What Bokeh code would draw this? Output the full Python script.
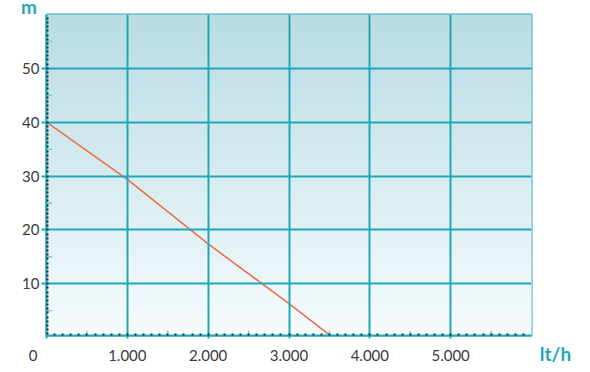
import numpy as np
from bokeh.plotting import figure
from bokeh.models import Range1d, FixedTicker, Div
from bokeh.layouts import column, row
from bokeh.core.properties import value
from bokeh.embed import file_html
from bokeh.resources import INLINE

# data
flow = [0, 1000, 2000, 3000, 3500]          # lt/h
head = [40, 29.4, 17.4, 6.3, 0.5]           # m
x_ticks = [0, 1000, 2000, 3000, 4000, 5000]
x_tick_labels = ["0\u00a0\u00a0\u00a0\u00a0\u00a0\u00a0\u00a0", "1.000", "2.000", "3.000", "4.000", "5.000"]
y_ticks = [10, 20, 30, 40, 50]
x_mid_ticks = [500, 1500, 2500, 3500, 4500, 5500]
y_mid_ticks = [5, 15, 25, 35, 45, 55]
y_unit = "m"
x_unit = "lt/h"

TEAL = "#1fa8b8"
FONT = "Lato"

x0, x1 = 0, 6000
y0, y1 = 0.4, 60

TOP = 13

p = figure(width=533, height=372 - TOP, output_backend="svg", toolbar_location=None,
           x_range=Range1d(x0, x1), y_range=Range1d(y0, y1),
           min_border_left=46, min_border_right=2, min_border_top=1, min_border_bottom=37)
p.background_fill_color = None
p.border_fill_color = None
p.outline_line_color = TEAL
p.outline_line_width = 2

# gradient background (style only)
n = 80
edges = np.linspace(y0, y1, n + 1)
top_c = np.array([184, 220, 227])
bot_c = np.array([246, 251, 253])
cols = []
for i in range(n):
    t = (i + 0.5) / n
    c = bot_c + (top_c - bot_c) * t
    cols.append("#%02x%02x%02x" % tuple(int(round(v)) for v in c))
p.quad(left=x0, right=x1, bottom=edges[:-1], top=edges[1:], fill_color=cols,
       line_color=cols, line_width=1.2)

# grid
p.xgrid.ticker = FixedTicker(ticks=x_ticks[1:])
p.ygrid.ticker = FixedTicker(ticks=y_ticks)
for g in (p.xgrid, p.ygrid):
    g.grid_line_color = TEAL
    g.grid_line_width = 2
    g.level = "glyph"

# mid ticks (lighter, slightly longer)
p.segment(x0=x_mid_ticks, x1=x_mid_ticks, y0=[y0] * len(x_mid_ticks),
          y1=[y0 + 0.9] * len(x_mid_ticks), line_color="#7fcbd6", line_width=1.5)
p.segment(x0=[x0] * len(y_mid_ticks), x1=[x0 + 70] * len(y_mid_ticks),
          y0=y_mid_ticks, y1=y_mid_ticks, line_color="#7fcbd6", line_width=1.5)

# curve
p.line(flow, head, line_color="#e8714a", line_width=1.6)

# axes
xa = p.xaxis[0]
xa.ticker = FixedTicker(ticks=x_ticks, minor_ticks=list(range(100, 6000, 100)))
xa.major_label_overrides = {t: l for t, l in zip(x_ticks, x_tick_labels)}
ya = p.yaxis[0]
ya.ticker = FixedTicker(ticks=y_ticks, minor_ticks=list(np.arange(0.75, 60, 0.77)))
for a in (xa, ya):
    a.axis_line_color = TEAL
    a.axis_line_width = 2
    a.major_tick_line_color = TEAL
    a.major_tick_line_width = 2
    a.major_tick_in = 0
    a.minor_tick_line_color = "#1b2a44"
    a.minor_tick_line_width = 2
    a.minor_tick_in = 2
    a.minor_tick_out = 0
    a.major_label_text_font = FONT
    a.major_label_text_font_size = "15px"
    a.major_label_text_color = "#3a3a3a"
xa.major_tick_out = 3
xa.major_label_standoff = 7
ya.major_tick_out = 5
ya.major_label_standoff = 2

# right-hand unit label
q = figure(title=None, frame_width=57, frame_height=372 - TOP, output_backend="svg",
           toolbar_location=None,
           x_range=Range1d(0, 57), y_range=Range1d(372 - TOP, 0),
           x_axis_location=None, y_axis_location=None,
           min_border_left=0, min_border_right=0, min_border_top=0, min_border_bottom=0)
q.outline_line_color = None
q.background_fill_color = None
q.border_fill_color = None
q.grid.visible = False
q.text(x=[22], y=[352 - TOP], text=[x_unit], text_align="center", text_baseline="middle",
       text_font=value(FONT), text_font_size="19px", text_font_style="bold", text_color=TEAL)

# top unit label (HTML text, not part of frame alignment)
strip = Div(text=y_unit, width=590, height=TOP, margin=(0, 0, 0, 0),
            styles={"color": TEAL, "font-family": FONT, "font-size": "19px",
                    "font-weight": "bold", "line-height": "13px", "padding-left": "21px",
                    "overflow": "visible"})

layout = column(strip, row(p, q, spacing=0), spacing=0)
open("out.html", "w").write(file_html(layout, INLINE))
